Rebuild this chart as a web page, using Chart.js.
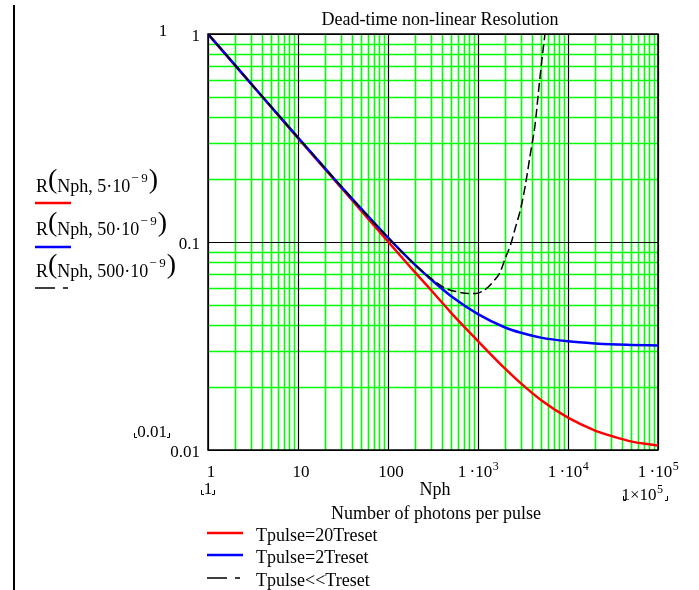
<!DOCTYPE html>
<html>
<head>
<meta charset="utf-8">
<script src="https://cdn.jsdelivr.net/npm/chart.js@4.4.0/dist/chart.umd.min.js"></script>
<style>
  body { margin: 0; background: #fff; }
  #wrap { position: relative; width: 699px; height: 590px; }
</style>
</head>
<body>
<div id="wrap"><canvas id="chart" width="699" height="590"></canvas></div>
<script>
// photons per pulse, shared by the two solid curves
const nph = [1, 2, 3, 5, 10, 20, 30, 50, 100, 200, 300, 500, 1000, 2000, 3000, 5000, 1e4, 2e4, 3e4, 5e4, 1e5];
const resRed = [1.0, 0.707, 0.577, 0.447, 0.316, 0.224, 0.183, 0.142, 0.1005, 0.0714, 0.0588, 0.0458, 0.0334, 0.0246, 0.0209, 0.0174, 0.0143, 0.0124, 0.0117, 0.0110, 0.0105];
const resBlue = [1.0, 0.708, 0.578, 0.448, 0.318, 0.226, 0.185, 0.145, 0.105, 0.0776, 0.0662, 0.0550, 0.0450, 0.0388, 0.0366, 0.0347, 0.0333, 0.0325, 0.0322, 0.0320, 0.0318];

// dashed curve (Tpulse << Treset)
const nphDead = [1, 2, 3, 5, 10, 20, 30, 50, 100, 200, 300, 450, 600, 780, 950, 1100, 1300, 1500, 1750, 2000, 2300, 2600, 2950, 3350, 3800, 4300, 4700, 5100, 5550];
const resDead = [1.0, 0.708, 0.578, 0.449, 0.318, 0.226, 0.186, 0.145, 0.105, 0.0778, 0.0668, 0.0595, 0.0575, 0.0565, 0.0565, 0.0578, 0.0608, 0.065, 0.0712, 0.083, 0.097, 0.117, 0.142, 0.186, 0.262, 0.365, 0.528, 0.736, 1.0];

const xTicks = [1, 10, 100, 1e3, 1e4, 1e5];
const xTickBase = ['1', '10', '100', '1\u2009\u00b710', '1\u2009\u00b710', '1\u2009\u00b710'];
const xTickExp = ['', '', '', '3', '4', '5'];
const yTicks = [1, 0.1, 0.01];
const yTickLabels = ['1', '0.1', '0.01'];

const seriesNames = ['Tpulse=20Treset', 'Tpulse=2Treset', 'Tpulse<<Treset'];
const seriesArgs = ['5', '50', '500'];
const seriesColors = ['#ff0000', '#0000ff', '#000000'];

const SERIF = '"Liberation Serif", "Times New Roman", serif';

function gridValues(lo, hi) {
  const out = [];
  for (let e = lo; e < hi; e++) {
    for (let m = 1; m < 10; m++) out.push(m * Math.pow(10, e));
  }
  out.push(Math.pow(10, hi));
  return out;
}

function isDecade(v) {
  const l = Math.log10(v);
  return Math.abs(l - Math.round(l)) < 1e-9;
}

function text(ctx, s, x, y, size, align) {
  ctx.font = size + 'px ' + SERIF;
  ctx.textAlign = align || 'left';
  ctx.textBaseline = 'alphabetic';
  ctx.fillText(s, x, y);
  return ctx.measureText(s).width;
}

function width(ctx, s, size) {
  ctx.font = size + 'px ' + SERIF;
  return ctx.measureText(s).width;
}

// base text with a raised exponent, centred on cx
function supText(ctx, base, sup, cx, y, size, supSize) {
  const wb = width(ctx, base, size);
  const ws = sup ? width(ctx, sup, supSize) : 0;
  const x0 = cx - (wb + ws) / 2;
  text(ctx, base, x0, y, size);
  if (sup) text(ctx, sup, x0 + wb + 0.5, y - size * 0.42, supSize);
}

function corners(ctx, x1, x2, yb, h) {
  ctx.save();
  ctx.strokeStyle = '#000';
  ctx.lineWidth = 1;
  ctx.beginPath();
  ctx.moveTo(x1 + 0.5, yb - h); ctx.lineTo(x1 + 0.5, yb + 0.5); ctx.lineTo(x1 + 3, yb + 0.5);
  ctx.moveTo(x2 - 3, yb + 0.5); ctx.lineTo(x2 - 0.5, yb + 0.5); ctx.lineTo(x2 - 0.5, yb - h);
  ctx.stroke();
  ctx.restore();
}

function sampleLine(ctx, x1, x2, y, color, dashed) {
  ctx.save();
  ctx.strokeStyle = color;
  ctx.beginPath();
  if (dashed) {
    ctx.lineWidth = 1.5;
    ctx.moveTo(x1, y); ctx.lineTo(x1 + 20, y);
    ctx.moveTo(x1 + 28, y); ctx.lineTo(x1 + 33, y);
  } else {
    ctx.lineWidth = 2.5;
    ctx.moveTo(x1, y); ctx.lineTo(x2, y);
  }
  ctx.stroke();
  ctx.restore();
}

// green minor grid, black decade lines, frame
const logGrid = {
  id: 'logGrid',
  beforeDatasetsDraw(chart) {
    const { ctx, chartArea: a } = chart;
    const xs = chart.scales.x;
    const ys = chart.scales.y;
    const xv = gridValues(0, 5);
    const yv = gridValues(-2, 0);
    ctx.save();
    [false, true].forEach(decadePass => {
      ctx.strokeStyle = decadePass ? '#000000' : '#00ff00';
      ctx.lineWidth = decadePass ? 1.2 : 1.6;
      ctx.beginPath();
      xv.filter(v => isDecade(v) === decadePass).forEach(v => {
        const px = Math.round(xs.getPixelForValue(v)) + 0.5;
        ctx.moveTo(px, a.top); ctx.lineTo(px, a.bottom);
      });
      yv.filter(v => isDecade(v) === decadePass).forEach(v => {
        const py = Math.round(ys.getPixelForValue(v)) + 0.5;
        ctx.moveTo(a.left, py); ctx.lineTo(a.right, py);
      });
      ctx.stroke();
    });
    ctx.lineWidth = 1.5;
    ctx.strokeRect(a.left, a.top, a.right - a.left, a.bottom - a.top);
    ctx.restore();
  }
};

const mathcadText = {
  id: 'mathcadText',
  afterDraw(chart) {
    const ctx = chart.ctx;
    const xs = chart.scales.x;
    const ys = chart.scales.y;
    ctx.save();
    ctx.fillStyle = '#000';

    // page margin rule on the left
    ctx.fillRect(13, 5, 2, 585);

    // title
    text(ctx, 'Dead-time non-linear Resolution', 440, 25, 18, 'center');

    // y tick labels
    yTicks.forEach((v, i) => {
      text(ctx, yTickLabels[i], 200, ys.getPixelForValue(v) + 7, 17, 'right');
    });
    // x tick labels
    xTicks.forEach((v, i) => {
      const px = xs.getPixelForValue(v);
      const cx = xTickExp[i] ? px : px + 3;
      supText(ctx, xTickBase[i], xTickExp[i], cx, 477, 17, 12);
    });

    // axis range placeholders
    text(ctx, '1', 163, 36, 17, 'center');
    text(ctx, '0.01', 152, 437, 17, 'center');
    corners(ctx, 134, 170, 437, 4);
    text(ctx, '1', 208, 494, 17, 'center');
    corners(ctx, 201, 215, 494, 4);
    supText(ctx, '1\u00d710', '5', 642, 500, 17, 12);
    corners(ctx, 623, 668, 500, 4);

    // axis titles
    text(ctx, 'Nph', 435, 495, 18, 'center');
    text(ctx, 'Number of photons per pulse', 436, 519, 18, 'center');

    // left trace labels
    const rowBase = [192, 235, 277];
    const rowLine = [203, 247, 288];
    seriesArgs.forEach((arg, i) => {
      const y = rowBase[i];
      let x = 36;
      x += text(ctx, 'R', x, y, 18);
      x += text(ctx, '(', x, y - 4, 28);
      x += text(ctx, 'Nph, ' + arg + '\u00b710', x, y, 18);
      x += text(ctx, '\u2212\u20099', x + 1, y - 10, 13) + 2;
      text(ctx, ')', x, y - 4, 28);
      sampleLine(ctx, 35, 71, rowLine[i], seriesColors[i], i === 2);
    });

    // bottom legend
    const legY = [533, 555, 578];
    seriesNames.forEach((name, i) => {
      sampleLine(ctx, 207, 243, legY[i], seriesColors[i], i === 2);
      text(ctx, name, 256, legY[i] + 8, 18);
    });
    ctx.restore();
  }
};

const ctx = document.getElementById('chart').getContext('2d');
new Chart(ctx, {
  type: 'line',
  data: {
    datasets: [
      {
        label: seriesNames[0],
        data: nph.map((n, i) => ({ x: n, y: resRed[i] })),
        borderColor: seriesColors[0],
        borderWidth: 2.5,
        pointRadius: 0,
        cubicInterpolationMode: 'monotone',
        order: 3
      },
      {
        label: seriesNames[1],
        data: nph.map((n, i) => ({ x: n, y: resBlue[i] })),
        borderColor: seriesColors[1],
        borderWidth: 2.5,
        pointRadius: 0,
        cubicInterpolationMode: 'monotone',
        order: 2
      },
      {
        label: seriesNames[2],
        data: nphDead.map((n, i) => ({ x: n, y: resDead[i] })),
        borderColor: seriesColors[2],
        borderWidth: 1.5,
        borderDash: [9, 4],
        pointRadius: 0,
        cubicInterpolationMode: 'monotone',
        order: 1
      }
    ]
  },
  options: {
    responsive: false,
    animation: false,
    devicePixelRatio: 1,
    layout: { padding: { left: 208, right: 41, top: 34, bottom: 140 } },
    scales: {
      x: {
        type: 'logarithmic',
        min: 1,
        max: 1e5,
        afterFit: (scale) => { scale.height = 0; },
        ticks: { display: false },
        grid: { display: false },
        border: { display: false }
      },
      y: {
        type: 'logarithmic',
        min: 0.01,
        max: 1,
        afterFit: (scale) => { scale.width = 0; },
        ticks: { display: false },
        grid: { display: false },
        border: { display: false }
      }
    },
    plugins: {
      legend: { display: false },
      title: { display: false },
      tooltip: { enabled: false }
    }
  },
  plugins: [logGrid, mathcadText]
});
</script>
</body>
</html>
